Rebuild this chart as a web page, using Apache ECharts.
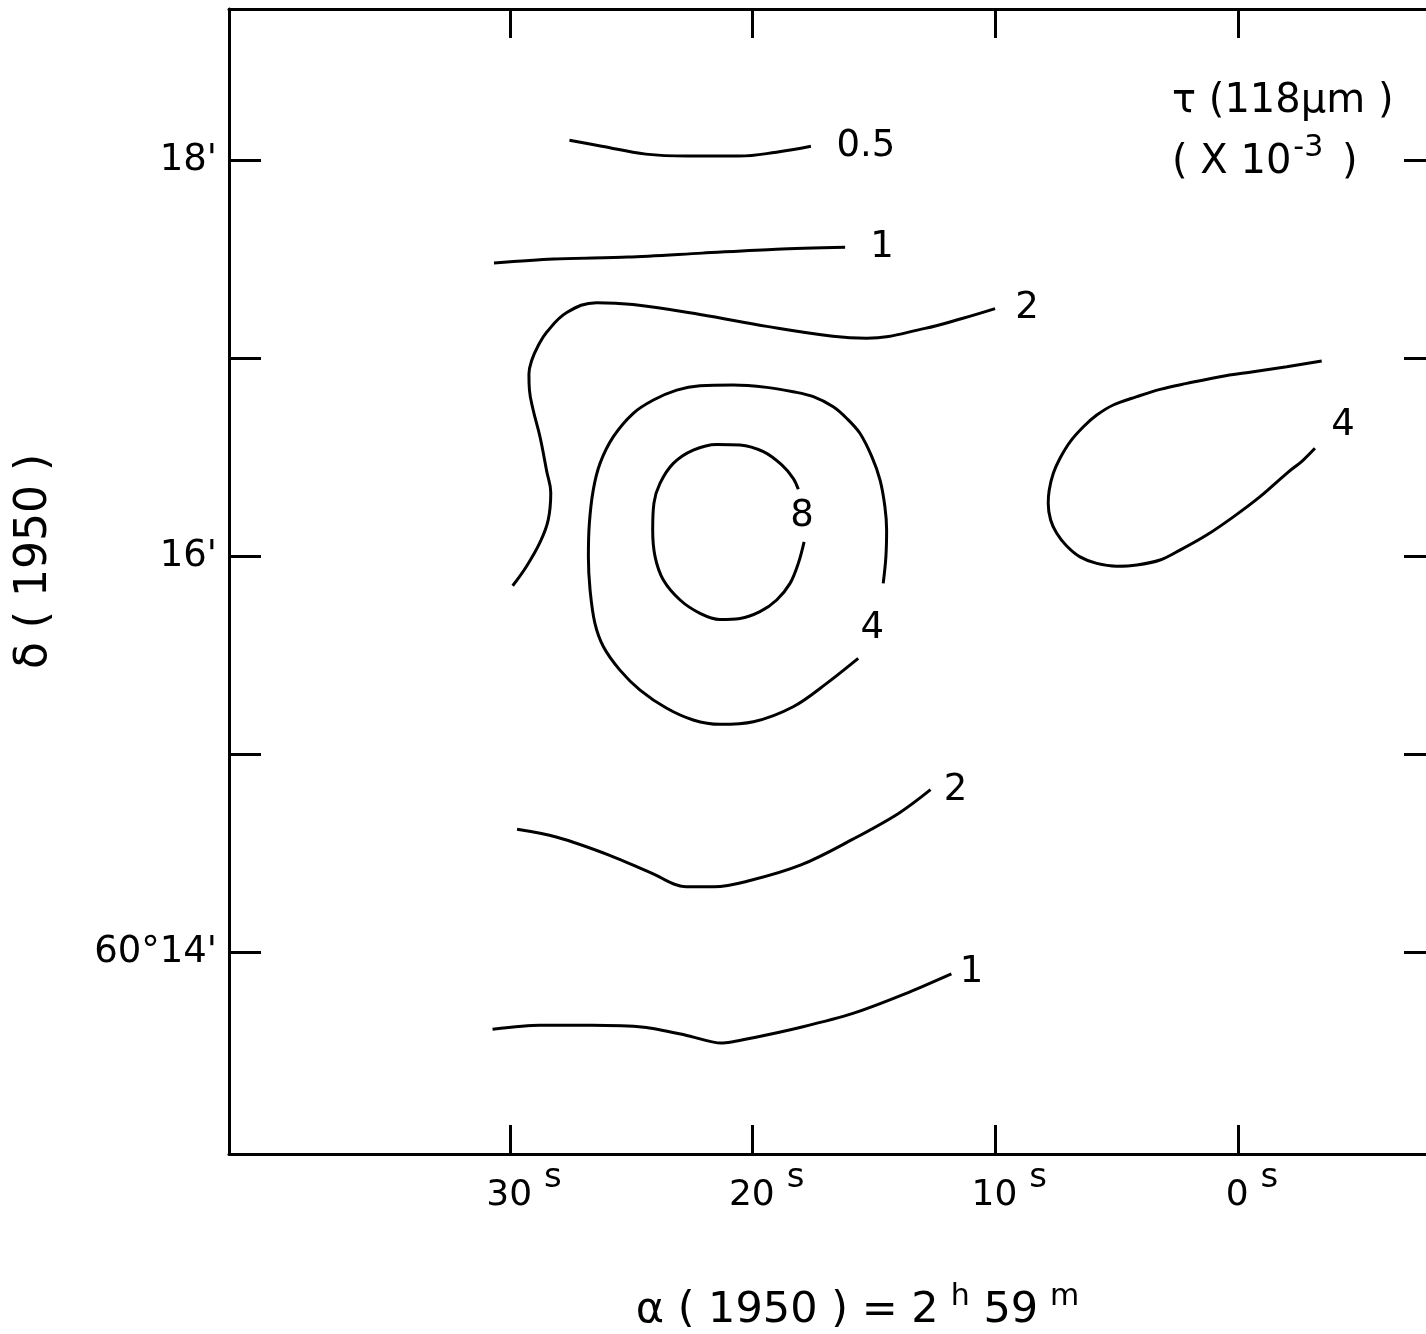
<!DOCTYPE html>
<html><head><meta charset="utf-8">
<script src="https://cdn.jsdelivr.net/npm/echarts@6/dist/echarts.min.js"></script>
<style>html,body{margin:0;padding:0;background:#fff}#c{width:1426px;height:1334px}</style>
</head><body><div id="c"></div>
<script>
// Axis ticks / labels
const xTickValues = [30, 20, 10, 0];            // RA seconds (2h59m + s)
const yTickValues = [14, 15, 16, 17, 18];       // Dec arcmin (60° + ')
const yLabelValues = [14, 16, 18];
const yLabelTexts = ["60°14'", "16'", "18'"];
const xRange = [-8.16, 41.58];
const yRange = [12.98, 18.763];

// Contour levels (tau x 10^-3)
const contourLevels = ['0.5', '1', '2', '4', '8', '4', '2', '1'];

// Contour paths: [RA seconds, Dec arcmin]
const c05 = [[27.55,18.10],[26.22,18.07],[24.40,18.03],[22.71,18.02],[20.56,18.02],[19.02,18.04],[17.60,18.07]];
const c1a = [[30.66,17.48],[28.21,17.50],[25.14,17.51],[22.09,17.53],[19.02,17.55],[16.19,17.56]];
const c2a = [[29.89,15.85],[29.31,15.95],[28.76,16.07],[28.43,16.18],[28.32,16.32],[28.49,16.43],[28.76,16.60],[29.05,16.74],[29.20,16.84],[29.22,16.92],[29.10,16.99],[28.85,17.06],[28.49,17.13],[27.66,17.23],[26.43,17.28],[24.93,17.27],[22.17,17.22],[19.42,17.16],[16.69,17.11],[15.30,17.10],[12.90,17.15],[11.37,17.20],[10.01,17.25]];
const c4a = [[14.62,15.862],[14.51,15.996],[14.48,16.131],[14.55,16.249],[14.75,16.384],[15.09,16.502],[15.58,16.620],[16.12,16.695],[16.68,16.754],[17.50,16.805],[18.33,16.830],[19.42,16.852],[20.80,16.864],[22.17,16.860],[23.13,16.838],[24.09,16.788],[24.92,16.721],[25.74,16.603],[26.29,16.468],[26.57,16.333],[26.73,16.165],[26.77,15.996],[26.70,15.828],[26.50,15.660],[26.15,15.542],[25.47,15.424],[24.64,15.323],[23.54,15.231],[22.45,15.172],[21.35,15.150],[19.97,15.163],[18.33,15.239],[16.95,15.357],[15.65,15.483]];
const c8 = [[18.12,16.337],[18.33,16.392],[18.80,16.460],[19.56,16.527],[20.52,16.561],[21.48,16.564],[22.45,16.535],[23.27,16.468],[23.82,16.367],[24.07,16.266],[24.12,16.131],[24.02,15.996],[23.68,15.879],[22.99,15.778],[22.17,15.711],[21.35,15.680],[20.52,15.685],[19.70,15.719],[19.01,15.778],[18.46,15.862],[18.12,15.963],[17.88,16.072]];
const c4b = [[-3.45,16.985],[-2.01,16.956],[-0.63,16.931],[0.74,16.906],[2.11,16.872],[3.21,16.842],[4.17,16.805],[5.14,16.763],[5.82,16.712],[6.37,16.653],[6.92,16.577],[7.34,16.493],[7.61,16.418],[7.78,16.333],[7.82,16.266],[7.72,16.182],[7.47,16.115],[7.06,16.051],[6.51,15.996],[5.82,15.963],[5.00,15.949],[4.17,15.955],[3.21,15.980],[2.39,16.030],[1.29,16.106],[0.19,16.198],[-0.91,16.300],[-2.01,16.418],[-2.69,16.485],[-3.17,16.544]];
const c2b = [[29.71,14.62],[28.06,14.58],[25.92,14.49],[24.19,14.40],[22.75,14.33],[21.59,14.33],[20.15,14.36],[18.01,14.44],[15.87,14.57],[13.99,14.70],[12.67,14.82]];
const c1b = [[30.72,13.61],[28.78,13.63],[26.62,13.63],[24.48,13.62],[22.75,13.58],[21.30,13.54],[19.87,13.57],[18.01,13.62],[15.87,13.69],[13.70,13.79],[11.81,13.89]];

const contourData = [c05, c1a, c2a, c4a, c8, c4b, c2b, c1b];

// Styles
const F = 'DejaVu Sans';
const labelOffsets = [[55,0],[37,0],[32,0],[14,-30],[-2,-25],[28,-23],[25,1],[20,-1]];
const smoothing = [0.4,0.3,0.4,0.35,0.35,0.35,0.35,0.25];

const chart = echarts.init(document.getElementById('c'), null, {renderer:'canvas'});

const series = contourData.map((pts, i) => ({
  type: 'line', data: pts, symbol: 'none', smooth: smoothing[i],
  lineStyle: {color: '#000', width: 3}, silent: true, z: 2
}));
series.push({
  type: 'scatter', silent: true, symbolSize: 1,
  itemStyle: {color: 'rgba(0,0,0,0)', opacity: 1},
  data: contourData.map((pts, i) => ({
    value: pts[pts.length - 1], name: contourLevels[i],
    label: {offset: labelOffsets[i]}
  })),
  label: {show: true, position: 'inside', formatter: p => p.name, color: '#000', opacity: 1,
          fontSize: 37, fontFamily: F, fontWeight: 'normal'},
  z: 3
});

const axisLine = {show: true, onZero: false, lineStyle: {color: '#000', width: 3}};
const tickStyle = {color: '#000', width: 3};

const option = {
  animation: false,
  backgroundColor: '#fff',
  grid: {left: 229, right: -10, top: 9, bottom: 180, containLabel: false, outerBoundsMode: 'none'},
  title: [
    {text: 'τ (118μm )', left: 1172, top: 80, padding: 0,
     textStyle: {fontSize: 40, fontFamily: F, fontWeight: 'normal', color: '#000', lineHeight: 44}},
    {text: '{a|( X 10}{b|-3}{a| )}', left: 1172, top: 139, padding: 0,
     textStyle: {fontWeight: 'normal', rich: {
       a: {fontSize: 40, fontFamily: F, fontWeight: 'normal', color: '#000', lineHeight: 44, verticalAlign: 'bottom'},
       b: {fontSize: 30, fontFamily: F, fontWeight: 'normal', color: '#000', lineHeight: 30, verticalAlign: 'bottom', padding: [0, 6, 20, 2]}
     }}}
  ],
  xAxis: [
    {type: 'value', position: 'bottom', min: xRange[0], max: xRange[1], inverse: true,
     axisLine: axisLine,
     axisTick: {show: true, inside: true, length: 29, customValues: xTickValues, lineStyle: tickStyle},
     splitLine: {show: false},
     axisLabel: {show: true, customValues: xTickValues, margin: 20,
       formatter: v => '{p| }{n|' + v + '}{s|s}',
       rich: {
         p: {width: 28, fontSize: 36, lineHeight: 40, verticalAlign: 'bottom'},
         n: {fontSize: 36, fontFamily: F, color: '#000', lineHeight: 40, verticalAlign: 'bottom'},
         s: {fontSize: 34, fontFamily: F, color: '#000', lineHeight: 34, verticalAlign: 'bottom', padding: [0, 0, 19, 12]}
       }},
     name: '{a|α ( 1950 ) = 2}{b|h}{a| 59}{b|m}',
     nameLocation: 'middle', nameGap: 130,
     nameTextStyle: {padding: [0, 0, 0, 50], rich: {
       a: {fontSize: 43, fontFamily: F, color: '#000', lineHeight: 48, verticalAlign: 'bottom'},
       b: {fontSize: 30, fontFamily: F, color: '#000', lineHeight: 30, verticalAlign: 'bottom', padding: [0, 0, 20, 12]}
     }}},
    {type: 'value', position: 'top', min: xRange[0], max: xRange[1], inverse: true,
     axisLine: axisLine,
     axisTick: {show: true, inside: true, length: 29, customValues: xTickValues, lineStyle: tickStyle},
     splitLine: {show: false}, axisLabel: {show: false}}
  ],
  yAxis: [
    {type: 'value', position: 'left', min: yRange[0], max: yRange[1],
     axisLine: axisLine,
     axisTick: {show: true, inside: true, length: 32, customValues: yTickValues, lineStyle: tickStyle},
     splitLine: {show: false},
     axisLabel: {show: true, customValues: yLabelValues, margin: 12,
       formatter: v => yLabelTexts[yLabelValues.indexOf(Math.round(v))],
       fontSize: 37, fontFamily: F, color: '#000'},
     name: 'δ ( 1950 )', nameLocation: 'middle', nameGap: 172,
     nameTextStyle: {fontSize: 44, fontFamily: F, color: '#000', lineHeight: 44, padding: [0, 0, 0, 40]}},
    {type: 'value', position: 'right', min: yRange[0], max: yRange[1],
     axisLine: axisLine,
     axisTick: {show: true, inside: true, length: 32, customValues: yTickValues, lineStyle: tickStyle},
     splitLine: {show: false}, axisLabel: {show: false}}
  ],
  series: series
};
chart.setOption(option);
</script></body></html>
